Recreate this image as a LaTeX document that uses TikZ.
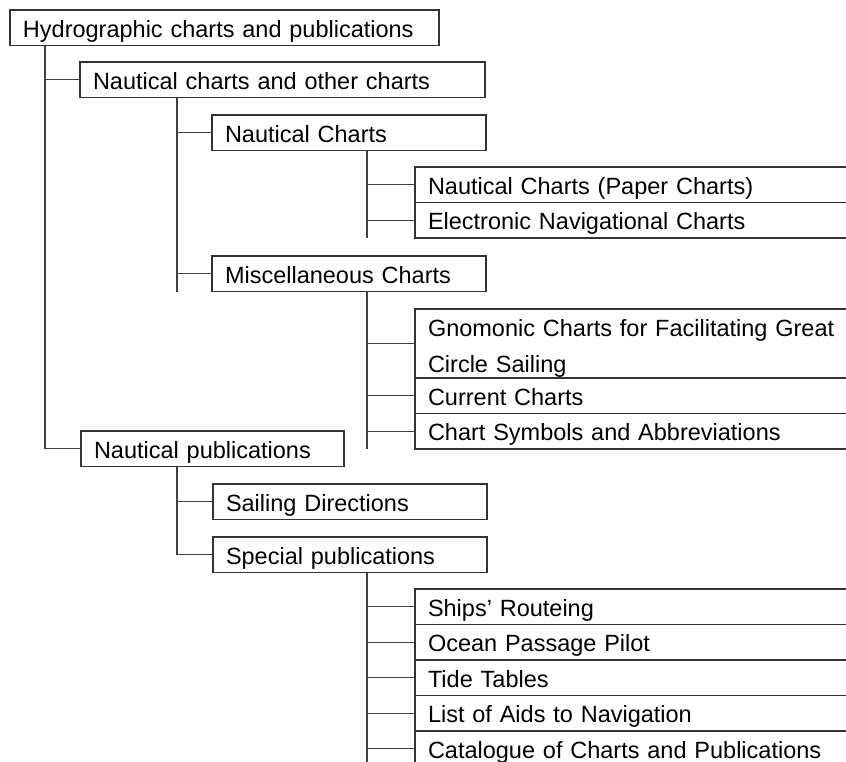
\documentclass[tikz,border=0pt]{standalone}
\usepackage{fontspec}
\setmainfont{Liberation Sans}
\usetikzlibrary{calc}

% fixed row: 27pt above the baseline, 8.5pt below
\newcommand\rowstrut{\rule[-8.5pt]{0pt}{35.5pt}}

\begin{document}
\begin{tikzpicture}[x=1pt,y=-1pt,
  ink/.style={draw=black!80, line width=1.4pt},
  entry/.style={ink, anchor=north west, inner xsep=13pt, inner ysep=0pt, outer sep=0pt,
    align=left, font=\fontsize{23.5}{36}\selectfont},
  link/.style={draw=black!75, line width=1.4pt}]
\useasboundingbox (0,0) rectangle (846,761);
\clip (0,0) rectangle (846,761);

% level 1
\node[entry, text width=403pt] (root) at (10,10) {\rowstrut Hydrographic charts and publications};

% level 2
\node[entry, text width=379pt] (charts) at (80,62) {\rowstrut Nautical charts and other charts};
\node[entry, text width=237pt] (pubs) at (81,431) {\rowstrut Nautical publications};

% level 3
\node[entry, text width=248pt] (naut) at (212,115) {\rowstrut Nautical Charts};
\node[entry, text width=248pt] (misc) at (212,256) {\rowstrut Miscellaneous Charts};
\node[entry, text width=248pt] (sail) at (213,484) {\rowstrut Sailing Directions};
\node[entry, text width=248pt] (spec) at (213,537) {\rowstrut Special publications};

% level 4: nautical charts
\node[entry, text width=440pt] (paper) at (415,167) {\rowstrut Nautical Charts (Paper Charts)};
\node[entry, text width=440pt] (enc) at (paper.south west) {\rowstrut Electronic Navigational Charts};

% level 4: miscellaneous charts
\node[entry, text width=440pt] (gnom) at (415,309)
  {\rule{0pt}{27pt}Gnomonic Charts for Facilitating Great\\Circle Sailing\rule[-6pt]{0pt}{6pt}};
\node[entry, text width=440pt] (curr) at (gnom.south west) {\rowstrut Current Charts};
\node[entry, text width=440pt] (symb) at (curr.south west) {\rowstrut Chart Symbols and Abbreviations};

% level 4: special publications
\node[entry, text width=440pt] (rout) at (415,589) {\rowstrut Ships’ Routeing};
\node[entry, text width=440pt] (ocean) at (rout.south west) {\rowstrut Ocean Passage Pilot};
\node[entry, text width=440pt] (tide) at (ocean.south west) {\rowstrut Tide Tables};
\node[entry, text width=440pt] (aids) at (tide.south west) {\rowstrut List of Aids to Navigation};
\node[entry, text width=440pt] (cat) at (aids.south west) {\rowstrut Catalogue of Charts and Publications};

% trunk origins below each parent
\coordinate (tRoot)   at ($(root.south west)+(35,0)$);
\coordinate (tCharts) at ($(charts.south west)+(97,0)$);
\coordinate (tNaut)   at ($(naut.south west)+(155,0)$);
\coordinate (tMisc)   at ($(misc.south west)+(155,0)$);
\coordinate (tPubs)   at ($(pubs.south west)+(96,0)$);
\coordinate (tSpec)   at ($(spec.south west)+(154,0)$);

% root branches
\draw[link] (tRoot) |- (charts.west);
\draw[link] (tRoot) |- (pubs.west);

% nautical charts and other charts
\draw[link] (tCharts) -- (tCharts |- misc.south);
\draw[link] (tCharts |- naut.west) -- (naut.west);
\draw[link] (tCharts |- misc.west) -- (misc.west);

% nautical charts
\draw[link] (tNaut) -- (tNaut |- enc.south);
\draw[link] (tNaut |- paper.west) -- (paper.west);
\draw[link] (tNaut |- enc.west) -- (enc.west);

% miscellaneous charts
\draw[link] (tMisc) -- (tMisc |- symb.south);
\draw[link] (tMisc |- gnom.west) -- (gnom.west);
\draw[link] (tMisc |- curr.west) -- (curr.west);
\draw[link] (tMisc |- symb.west) -- (symb.west);

% nautical publications
\draw[link] (tPubs) |- (sail.west);
\draw[link] (tPubs) |- (spec.west);

% special publications
\draw[link] (tSpec) -- (tSpec |- cat.south);
\draw[link] (tSpec |- rout.west) -- (rout.west);
\draw[link] (tSpec |- ocean.west) -- (ocean.west);
\draw[link] (tSpec |- tide.west) -- (tide.west);
\draw[link] (tSpec |- aids.west) -- (aids.west);
\draw[link] (tSpec |- cat.west) -- (cat.west);
\end{tikzpicture}
\end{document}
